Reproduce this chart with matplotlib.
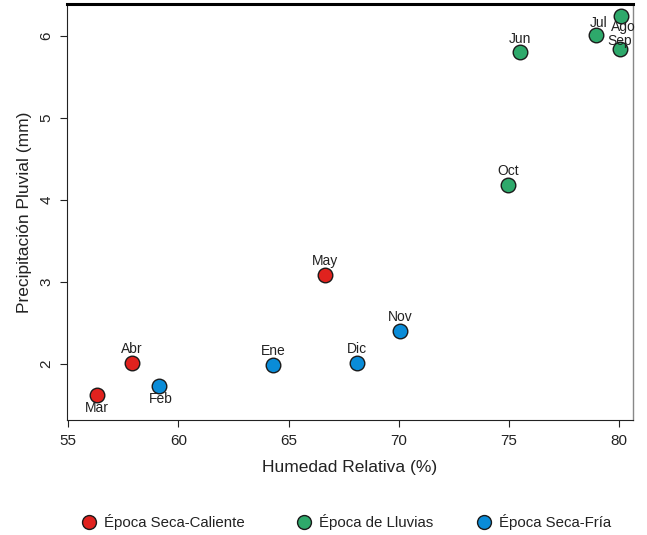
import matplotlib.pyplot as plt
from matplotlib.lines import Line2D

plt.rcParams['font.family'] = ['Liberation Sans', 'DejaVu Sans']

# Datos
meses = ['Ene', 'Feb', 'Mar', 'Abr', 'May', 'Jun', 'Jul', 'Ago', 'Sep', 'Oct', 'Nov', 'Dic']
humedad = [64.30, 59.13, 56.32, 57.90, 66.66, 75.50, 78.95, 80.08, 80.03, 74.95, 70.06, 68.09]
precipitacion = [1.99, 1.74, 1.63, 2.02, 3.09, 5.80, 6.01, 6.24, 5.84, 4.18, 2.41, 2.01]
epoca = ['fria', 'fria', 'caliente', 'caliente', 'caliente', 'lluvias', 'lluvias',
         'lluvias', 'lluvias', 'lluvias', 'fria', 'fria']

epocas = ['caliente', 'lluvias', 'fria']
nombres_epoca = ['Época Seca-Caliente', 'Época de Lluvias', 'Época Seca-Fría']
colores = {'caliente': '#E0221E', 'lluvias': '#2EA96B', 'fria': '#0A8CD8'}

# desplazamiento de etiquetas (puntos): debajo para Mar, Feb y Ago, el resto arriba
desplaz = {'Mar': (0, -9.5), 'Feb': (1, -10), 'Ago': (1.5, -7.5), 'Jul': (1.5, 8.5),
           'Sep': (0, 6)}

fig = plt.figure(figsize=(6.47, 5.35), dpi=100)
ax = fig.add_axes([0.1036, 0.215, 0.8748, 0.7775])

for ep in epocas:
    xs = [h for h, e in zip(humedad, epoca) if e == ep]
    ys = [p for p, e in zip(precipitacion, epoca) if e == ep]
    ax.scatter(xs, ys, s=110, c=colores[ep], edgecolors='#1a1a1a', linewidths=1.0, zorder=3)

for m, h, p in zip(meses, humedad, precipitacion):
    dx, dy = desplaz.get(m, (0, 10))
    ax.annotate(m, (h, p), xytext=(dx, dy), textcoords='offset points',
                ha='center', va='center', fontsize=10, color='#222222')

ax.set_xlim(54.95, 80.62)
ax.set_ylim(1.32, 6.39)
ax.set_xticks([55, 60, 65, 70, 75, 80])
ax.set_yticks([2, 3, 4, 5, 6])
ax.tick_params(axis='both', labelsize=11, color='#222222', labelcolor='#222222',
               length=5, pad=5)
for lbl in ax.get_yticklabels():
    lbl.set_rotation(90)
    lbl.set_va('center')

ax.spines['top'].set_linewidth(2.2)
ax.spines['top'].set_color('black')
ax.spines['right'].set_color('#888888')
ax.spines['right'].set_linewidth(1.0)
ax.spines['left'].set_color('#222222')
ax.spines['bottom'].set_color('#222222')

ax.set_xlabel('Humedad Relativa (%)', fontsize=12.5, color='#222222', labelpad=9)
ax.set_ylabel('Precipitación Pluvial (mm)', fontsize=12.5, color='#222222', labelpad=5)

# leyenda inferior, una entrada por época
x_leyenda = [0.124, 0.456, 0.734]
for ep, nombre, xl in zip(epocas, nombres_epoca, x_leyenda):
    h = Line2D([], [], marker='o', linestyle='', markersize=10,
               markerfacecolor=colores[ep], markeredgecolor='#1a1a1a', markeredgewidth=1.0)
    fig.legend([h], [nombre], loc='center left', bbox_to_anchor=(xl, 0.024),
               frameon=False, fontsize=10.8, handletextpad=0.4, borderpad=0,
               borderaxespad=0, handlelength=1.2, labelcolor='#222222')

fig.savefig('out.png', dpi=100)
